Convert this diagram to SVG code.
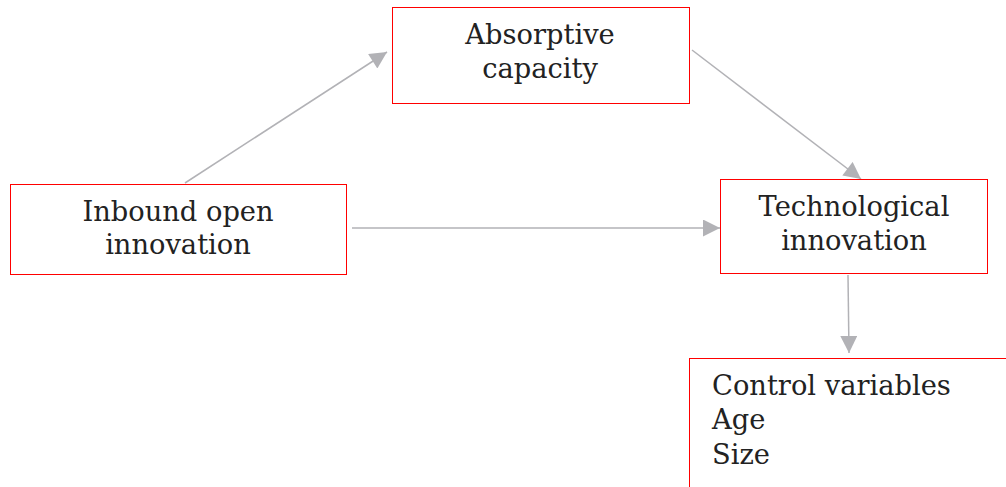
<svg xmlns="http://www.w3.org/2000/svg" width="1006" height="487" viewBox="0 0 1006 487">
<style>
.box{fill:#fff;stroke:#ff0000;stroke-width:1}
.t{font-family:"DejaVu Serif",serif;font-size:27.3px;fill:#222}
.c{text-anchor:middle}
.edge{stroke:#b2b2b6;stroke-width:1.5;fill:none;marker-end:url(#ah)}
</style>
<defs>
<marker id="ah" viewBox="0 0 10 10" refX="10" refY="5" markerUnits="userSpaceOnUse" markerWidth="19" markerHeight="17" orient="auto">
<path d="M0,0 L10,5 L0,10 z" fill="#b2b2b6"/>
</marker>
</defs>
<rect width="1006" height="487" fill="#fff"/>
<g id="connectors">
<line class="edge" x1="185" y1="183" x2="387" y2="52"/>
<line class="edge" x1="352" y1="228" x2="720" y2="228"/>
<line class="edge" x1="692" y1="50" x2="861" y2="179"/>
<line class="edge" x1="848" y1="275" x2="849" y2="353"/>
</g>
<g id="absorptive">
<rect class="box" x="392.5" y="7.5" width="297" height="96"/>
<text class="t c" x="540" y="44">Absorptive</text>
<text class="t c" x="540" y="78">capacity</text>
</g>
<g id="inbound">
<rect class="box" x="10.5" y="184.5" width="336" height="90"/>
<text class="t c" x="178" y="221">Inbound open</text>
<text class="t c" x="178" y="254">innovation</text>
</g>
<g id="technological">
<rect class="box" x="720.5" y="179.5" width="267" height="94"/>
<text class="t c" x="854" y="216">Technological</text>
<text class="t c" x="854" y="250">innovation</text>
</g>
<g id="control">
<rect class="box" x="689.5" y="358.5" width="330" height="140"/>
<text class="t" x="712" y="395">Control variables</text>
<text class="t" x="712" y="429">Age</text>
<text class="t" x="712" y="464">Size</text>
</g>
</svg>
